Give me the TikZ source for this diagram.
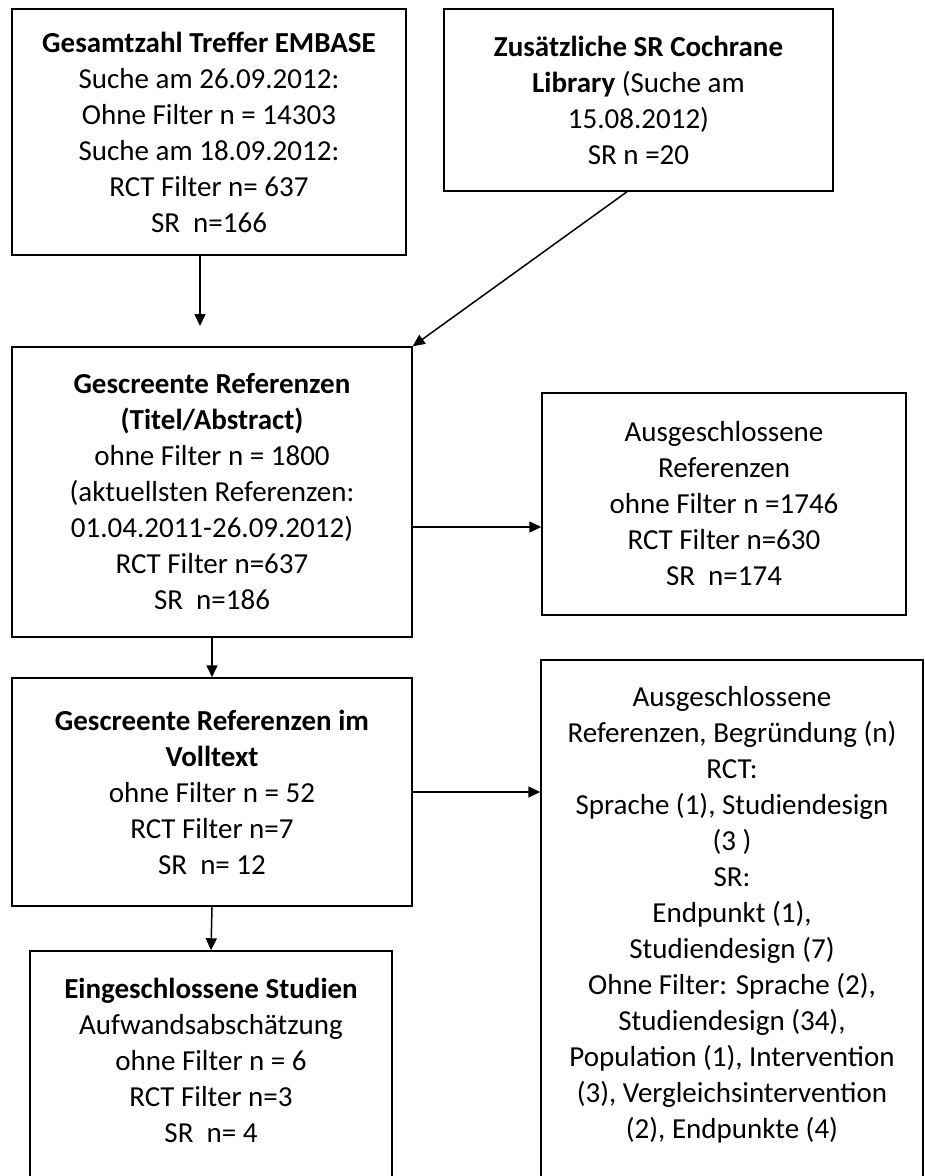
\documentclass[tikz,border=0pt]{standalone}
\usepackage{fontspec}
\setmainfont{Carlito}
\usetikzlibrary{arrows.meta,calc}

\begin{document}
\begin{tikzpicture}[
    x=1pt, y=-1pt,
    every node/.style={font=\fontsize{29}{36}\selectfont},
    box/.style={draw,line width=1.5pt,align=center,inner sep=0pt},
    txt/.style={align=center,inner sep=0pt,anchor=north},
    arr/.style={-{Triangle[length=12pt,width=11pt]},line width=1.5pt}
  ]
  \useasboundingbox (0,0) rectangle (925,1176);

  \node[box,minimum width=394,minimum height=246] (embase) at (209,132)
    {\textbf{Gesamtzahl Treffer EMBASE}\\Suche am 26.09.2012:\\Ohne Filter n = 14303\\
     Suche am 18.09.2012:\\RCT Filter n= 637\\SR\ \ n=166};
  \node[box,minimum width=389,minimum height=182] (cochrane) at (638.5,100)
    {\textbf{Zusätzliche SR Cochrane}\\\textbf{Library} (Suche am\\15.08.2012)\\SR n =20};
  \node[box,minimum width=400,minimum height=290] (screen1) at (212,492)
    {\textbf{Gescreente Referenzen}\\\textbf{(Titel/Abstract)}\\ohne Filter n = 1800\\
     (aktuellsten Referenzen:\\01.04.2011-26.09.2012)\\RCT Filter n=637\\SR\ \ n=186};
  \node[box,minimum width=364,minimum height=222] (excl1) at (724,504)
    {Ausgeschlossene\\Referenzen\\ohne Filter n =1746\\RCT Filter n=630\\SR\ \ n=174};
  \node[box,minimum width=400,minimum height=228] (screen2) at (212,792)
    {\textbf{Gescreente Referenzen im}\\\textbf{Volltext}\\ohne Filter n = 52\\RCT Filter n=7\\SR\ \ n= 12};

  % boxes running off the bottom of the page
  \node[box,minimum width=382,minimum height=560] (excl2) at (732,940) {};
  \node[txt] (excl2-txt) at ([yshift=-27pt]excl2.north)
    {Ausgeschlossene\\Referenzen, Begründung (n)\\RCT:\\Sprache (1), Studiendesign\\(3 )\\SR:\\
     Endpunkt (1),\\Studiendesign (7)\\Ohne Filter: Sprache (2),\\Studiendesign (34),\\
     Population (1), Intervention\\(3), Vergleichsintervention\\(2), Endpunkte (4)};
  \node[box,minimum width=362,minimum height=260] (incl) at (211,1081) {};
  \node[txt] (incl-txt) at ([yshift=-28pt]incl.north)
    {\textbf{Eingeschlossene Studien}\\Aufwandsabschätzung\\ohne Filter n = 6\\RCT Filter n=3\\SR\ \ n= 4};

  \coordinate (a1) at (200,326);

  \draw[arr] (embase.south -| a1) -- (a1);
  \draw[arr] ([xshift=-11.5pt]cochrane.south) -- (screen1.north east);
  \draw[arr] ([yshift=-35pt]screen1.east) -- ([yshift=-35pt]screen1.east -| excl1.west);
  \draw[arr] (screen1.south) -- (screen2.north);
  \draw[arr] (screen2.east) -- (screen2.east -| excl2.west);
  \draw[arr] (screen2.south) -- (incl.north);
\end{tikzpicture}
\end{document}
